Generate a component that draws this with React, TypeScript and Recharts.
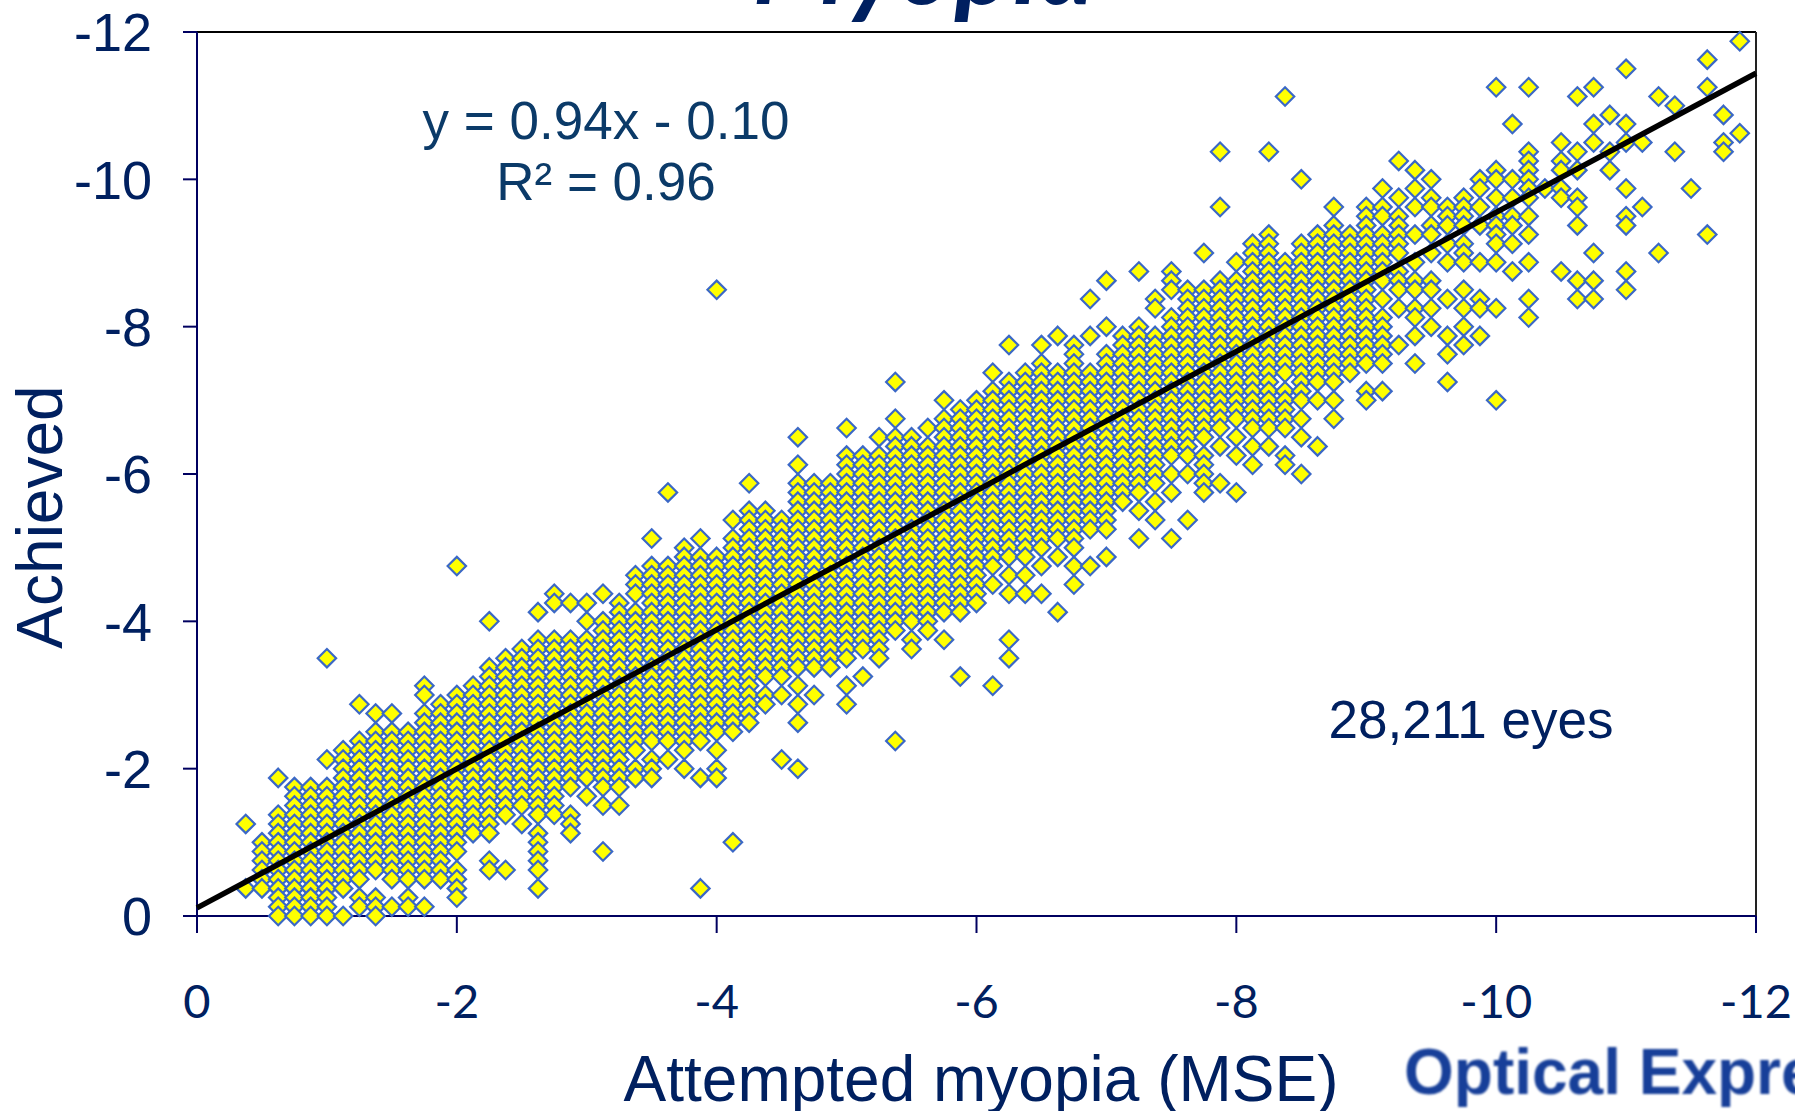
import { ScatterChart, Scatter, XAxis, YAxis, ReferenceLine } from "recharts";

// attempted and achieved are both read in eighths of a dioptre, the grid the eyes sit on
const attemptedEighths = [
  3, 4, 5, 6, 7, 8, 9, 10, 11, 12, 13, 14, 15, 16, 17, 18, 19, 20, 21, 22, 23, 24, 25, 26,
  27, 28, 29, 30, 31, 32, 33, 34, 35, 36, 37, 38, 39, 40, 41, 42, 43, 44, 45, 46, 47, 48, 49, 50,
  51, 52, 53, 54, 55, 56, 57, 58, 59, 60, 61, 62, 63, 64, 65, 66, 67, 68, 69, 70, 71, 72, 73, 74,
  75, 76, 77, 78, 79, 80, 81, 82, 83, 84, 85, 86, 87, 88, 89, 90, 91, 92, 93, 94, 95,
];

// one entry per attempted value: achieved rows, "a-b" is an unbroken run of rows
const achievedEighths = [
  "3 10", "3-8", "0-11 15", "0-14", "0-14", "0-14 17 28", "0 3-18", "1-2 4-19 23",
  "0-2 5-20 22", "1 4-20 22", "1-2 4-20", "1 4-22 24-25", "4-23", "2-5 7-24 38", "9-25", "5-6 9-27 32",
  "5 11-28", "10 12-29", "3 5-9 11-30 33", "11-30 34-35", "9-11 14-30 34", "13 15-30 32 34", "7 12 14-32 35", "12 14-34",
  "15-16 18-33 35-37", "15-17 19-38 41", "17 19-38 46", "16 18-40", "3 15 19-39 41", "15-16 18 20-39 68", "8 20-41 43", "21-44 47",
  "23-24 26-44", "17 24 26-43", "16 21 23 25 27-47 49 52", "24 27-47", "27-47", "23 25 28-50 53", "26 29-50", "28-50 52",
  "19 31-52 54 58", "29-30 32-52", "31-51 53", "30 33-54 56", "26 33-55", "34-56", "25 36 38-57 59", "28 30 35 37 39-58 62",
  "35 37 39-59", "35 38 40-60 62", "33 39 41-59 63", "36 38 40-62", "38 42-59 63 67", "39 42-61 64 69", "45-63", "41 44 46-64 70",
  "43 45 47-63 66-67", "41 46 48 50-65 68-70", "43 48 50-68", "46-50 52-68 72", "47 51 53-69 77 83", "46 50 52 54-69 71", "49 51 53-73", "51 53-74 83",
  "49-50 53-57 59-71 89", "48 52 54 56-73 80", "51 56 58-74", "54 56 58-75 77", "59-74", "56-57 60-77", "57 60-65 67 69-74 76-77 79", "62 66 68-70 72-76 78 82",
  "60 63 65-66 68-69 71 74 77 79 81", "64 66 68-69 72 74-75 77-78 80", "58 61 63 67 71 73 75-77", "62 64 66 68 71-73 75-78", "63 66-67 71 75 77 79-80", "56 66 71 73-76 78 80-81 90",
  "70 73 75-76 78 80 86", "65 67 71 74 76 78-83 90", "79", "70 78-79 81-82 84", "67 69 75 77-78 81 83 89", "67 69 72 84 86 90", "81 83 87", "68 70 75-76 79 84 86 92",
  "77 84", "72 89", "83 88", "79", "74 90 93", "83-84 87", "85 95",
];

const axisTicks = [0, -2, -4, -6, -8, -10, -12];
const trendAttempted = [0, -12];
const trendAchieved = [-0.11, -11.44];

const navy = "#002060";
const axisNavy = "#000060";

const eyes = attemptedEighths
  .flatMap((column, i) =>
    achievedEighths[i].split(" ").flatMap((run) => {
      const [from, to] = run.split("-").map(Number);
      const rows: number[] = [];
      for (let row = from; row <= (to ?? from); row++) rows.push(row);
      return rows.map((row) => ({ attempted: -column / 8, achieved: -row / 8, row }));
    })
  )
  // lower rows go on top, that is what gives the stacked chevron look
  .sort((a, b) => b.row - a.row);

const trend = trendAttempted.map((attempted, i) => ({ attempted, achieved: trendAchieved[i] }));

const Diamond = (props: any) => {
  const { cx, cy } = props;
  const r = 9.2;
  return (
    <path
      d={`M${cx},${cy - r}L${cx + r},${cy}L${cx},${cy + r}L${cx - r},${cy}Z`}
      fill="#ffff00"
      stroke="#3b68c6"
      strokeWidth={2.2}
    />
  );
};

const NoMarker = () => null;

const arial = "'Liberation Sans', Arial, sans-serif";

const App = () => {
  return (
    <div style={{ position: "absolute", left: 0, top: 0, width: 1795, height: 1111, overflow: "hidden" }}>
      <ScatterChart width={1795} height={1111} margin={{ top: 32, right: 39, bottom: 75, left: 77 }}>
        <XAxis
          type="number"
          dataKey="attempted"
          domain={[-12, 0]}
          reversed
          ticks={axisTicks}
          interval={0}
          tickSize={17}
          tickMargin={52}
          height={120}
          stroke={axisNavy}
          strokeWidth={2}
          tick={{ fill: navy, fontSize: 47, fontFamily: "Lato" }}
        />
        <YAxis
          type="number"
          dataKey="achieved"
          domain={[-12, 0]}
          reversed
          ticks={axisTicks}
          interval={0}
          tickSize={14}
          tickMargin={31}
          width={120}
          stroke={axisNavy}
          strokeWidth={2}
          tick={{ fill: navy, fontSize: 54, fontFamily: arial }}
        />
        <ReferenceLine y={-12} stroke="#000000" strokeWidth={2} />
        <ReferenceLine x={-12} stroke="#222222" strokeWidth={2} />
        <Scatter data={eyes} shape={Diamond} isAnimationActive={false} />
        <Scatter
          data={trend}
          line={{ stroke: "#000000", strokeWidth: 5.5 }}
          shape={NoMarker}
          isAnimationActive={false}
        />
        <text x={924} y={4} textAnchor="middle" fill={navy} fontSize={108} fontFamily="Lato" fontWeight="bold" fontStyle="italic">
          Myopia
        </text>
        <text x={606} y={139} textAnchor="middle" fill="#0b3a68" fontSize={53} fontFamily={arial}>
          y = 0.94x - 0.10
        </text>
        <text x={606} y={200} textAnchor="middle" fill="#0b3a68" fontSize={53} fontFamily={arial}>
          R² = 0.96
        </text>
        <text x={1471} y={738} textAnchor="middle" fill={navy} fontSize={53} fontFamily={arial}>
          28,211 eyes
        </text>
        <text x={981} y={1101} textAnchor="middle" fill={navy} fontSize={64} fontFamily={arial}>
          Attempted myopia (MSE)
        </text>
        <text
          transform="translate(62,517) rotate(-90)"
          textAnchor="middle"
          fill={navy}
          fontSize={64}
          fontFamily={arial}
        >
          Achieved
        </text>
        <text
          x={1404}
          y={1094}
          fill="#173f99"
          fontSize={64}
          fontWeight="bold"
          fontFamily={arial}
          style={{ filter: "blur(0.8px)" }}
        >
          Optical Express
        </text>
      </ScatterChart>
    </div>
  );
};

export default App;
